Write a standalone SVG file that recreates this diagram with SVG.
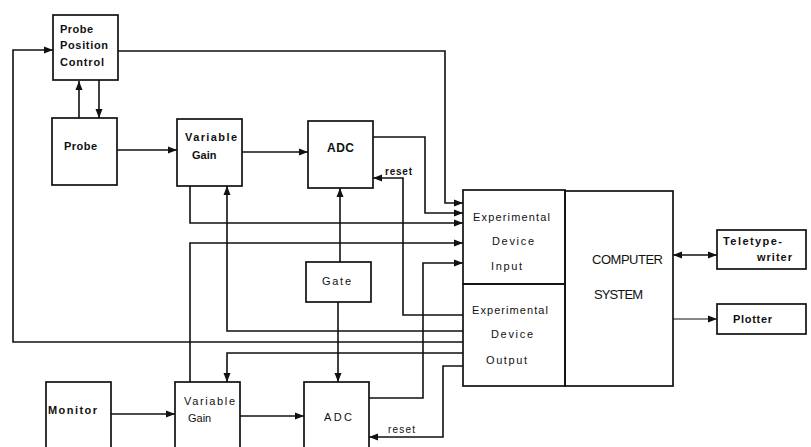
<svg xmlns="http://www.w3.org/2000/svg" width="811" height="447" viewBox="0 0 811 447">
<style>
.box{fill:none;stroke:#111;stroke-width:1.7}
.ln{fill:none;stroke:#111;stroke-width:1.6;stroke-linejoin:miter}
.thin{fill:none;stroke:#111;stroke-width:1.1}
.arr{marker-end:url(#ah)}
text{font-family:"Liberation Sans",Arial,sans-serif;font-size:11px;fill:#111}
.b{font-weight:bold}
.big{font-size:13px}
.sm{font-size:10px}
</style>
<defs>
<marker id="ah" markerUnits="userSpaceOnUse" markerWidth="10" markerHeight="8" refX="9" refY="4" orient="auto-start-reverse">
<path d="M0,0.5 L9,4 L0,7.5 z" fill="#111"/>
</marker>
</defs>
<rect width="811" height="447" fill="#fff"/>

<g id="connectors">
<path class="ln arr" d="M99,80 V118"/>
<path class="ln arr" d="M79,118 V81"/>
<path class="ln arr" d="M117,150 H177"/>
<path class="ln arr" d="M242,152 H308"/>
<path class="ln arr" d="M111,414 H175"/>
<path class="ln arr" d="M240,416 H304"/>
<path class="ln arr" d="M118,51 H445 V203 H463"/>
<path class="ln arr" d="M373,137 H425 V213 H463"/>
<path class="ln arr" d="M190,186 V223 H463"/>
<path class="ln arr" d="M190,382 V243 H463"/>
<path class="ln arr" d="M369,398 H423 V263 H463"/>
<path class="ln arr" d="M463,315 H403 V178 H373"/>
<path class="ln arr" d="M463,331 H227 V186"/>
<path class="ln arr" d="M463,342 H13 V50 H53"/>
<path class="ln arr" d="M463,353 H227 V382"/>
<path class="ln arr" d="M463,366 H443 V437 H369"/>
<path class="ln arr" d="M340,262 V188"/>
<path class="ln arr" d="M338,302 V382"/>
<path class="ln arr" d="M673,255 H717" marker-start="url(#ah)"/>
<path class="thin arr" d="M673,319 H717"/>
</g>

<g id="probe-position-control">
<rect class="box" x="53" y="15" width="65" height="65"/>
<text class="b" x="60" y="33" textLength="33">Probe</text>
<text class="b" x="60" y="49" textLength="48">Position</text>
<text class="b" x="60" y="66" textLength="44">Control</text>
</g>
<g id="probe">
<rect class="box" x="52" y="118" width="65" height="67"/>
<text class="b" x="64" y="150" textLength="33">Probe</text>
</g>
<g id="variable-gain-1">
<rect class="box" x="177" y="119" width="65" height="67"/>
<text class="b" x="185" y="141" textLength="52">Variable</text>
<text class="b" x="192" y="159">Gain</text>
</g>
<g id="adc-1">
<rect class="box" x="308" y="121" width="65" height="67"/>
<text class="b" x="327" y="152" textLength="27" style="font-size:12px">ADC</text>
<text class="b sm" x="385" y="175" textLength="27">reset</text>
</g>
<g id="gate">
<rect class="box" x="306" y="262" width="65" height="40"/>
<text x="322" y="285" textLength="29">Gate</text>
</g>
<g id="experimental-device-input">
<rect class="box" x="463" y="190" width="102" height="94"/>
<text x="473" y="221" textLength="77">Experimental</text>
<text x="492" y="245" textLength="42">Device</text>
<text x="491" y="270" textLength="31">Input</text>
</g>
<g id="experimental-device-output">
<rect class="box" x="463" y="284" width="102" height="102"/>
<text x="472" y="314" textLength="76">Experimental</text>
<text x="491" y="338" textLength="42">Device</text>
<text x="486" y="364" textLength="41">Output</text>
</g>
<g id="computer-system">
<rect class="box" x="565" y="191" width="108" height="195"/>
<text class="big" x="592" y="264" textLength="71">COMPUTER</text>
<text class="big" x="594" y="299" textLength="49">SYSTEM</text>
</g>
<g id="teletypewriter">
<rect class="box" x="717" y="230" width="89" height="39"/>
<text class="b" x="723" y="245" textLength="59">Teletype-</text>
<text class="b" x="757" y="261" textLength="35">writer</text>
</g>
<g id="plotter">
<rect class="box" x="717" y="304" width="89" height="30"/>
<text class="b" x="733" y="323" textLength="39">Plotter</text>
</g>
<g id="monitor">
<rect class="box" x="46" y="382" width="65" height="70"/>
<text class="b" x="48" y="414" textLength="49">Monitor</text>
</g>
<g id="variable-gain-2">
<rect class="box" x="175" y="382" width="65" height="70"/>
<text x="184" y="405" textLength="51">Variable</text>
<text x="188" y="422">Gain</text>
</g>
<g id="adc-2">
<rect class="box" x="304" y="382" width="65" height="70"/>
<text x="324" y="421" textLength="28">ADC</text>
<text class="sm" x="388" y="433" textLength="27">reset</text>
</g>
</svg>
